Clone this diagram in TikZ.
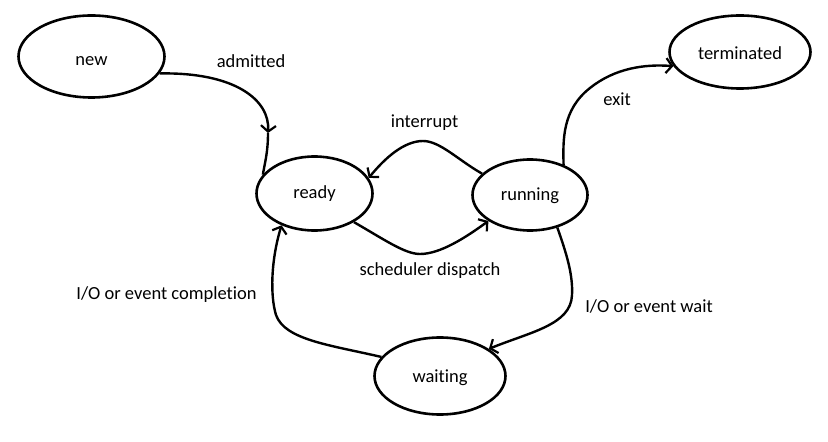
\documentclass[tikz,border=0pt]{standalone}
\usepackage{fontspec}
\setmainfont{Carlito}[Ligatures={NoCommon}]
\usetikzlibrary{shapes.geometric,arrows.meta}
\begin{document}
\begin{tikzpicture}[x=1bp,y=-1bp,
  state/.style={draw,ellipse,line width=2.6bp,inner sep=0pt,text depth=0pt,font=\fontsize{18.5bp}{21bp}\selectfont},
  lbl/.style={inner sep=0pt,font=\fontsize{18.5bp}{21bp}\selectfont},
  conn/.style={line width=2.4bp},
  arr/.style={conn,-{Straight Barb[length=6bp,width=15bp,line width=2.2bp]}}]
\useasboundingbox (0,0) rectangle (828,442);
\node[state,minimum width=146bp,minimum height=82bp,text height=17.6bp] (new) at (91.5,56.5) {new};
\node[state,minimum width=116bp,minimum height=74bp,text height=11bp] (ready) at (314.5,193.5) {ready};
\node[state,minimum width=115bp,minimum height=71bp,text height=11.4bp] (running) at (530,195) {running};
\node[state,minimum width=141bp,minimum height=73bp,text height=14.6bp] (term) at (740,52) {terminated};
\node[state,minimum width=131bp,minimum height=77bp,text height=13bp] (wait) at (440,376) {waiting};
% labels
\node[lbl] (ladm) at (251,61) {admitted};
\node[lbl] (lint) at (424.5,123) {interrupt};
\node[lbl] (lexit) at (617,99) {exit};
\node[lbl] (lsch) at (430,271) {scheduler dispatch};
\node[lbl] (lcomp) at (166.5,295) {I/O or event completion};
\node[lbl] (lwait) at (649,306) {I/O or event wait};
% admitted (arrow tip mid-way)
\coordinate (admtip) at (268,133);
\draw[arr] (new.-14) .. controls (235,72) and (270,100) .. (admtip);
\draw[conn] (admtip) .. controls (268,152) and (265,162) .. (ready.160);
% interrupt
\draw[arr] (running.156) .. controls (458,160) and (440,141) .. (423,141)
  .. controls (404,141) and (385,158) .. (ready.16);
% scheduler dispatch
\draw[arr] (ready.-36) .. controls (385,240) and (405,254) .. (420,254)
  .. controls (440,254) and (465,238) .. (running.-148);
% exit
\draw[arr] (running.42) .. controls (563,140) and (562,110) .. (590,88)
  .. controls (615,68) and (645,64) .. (term.-168);
% I/O or event wait
\draw[arr] (running.-50) .. controls (567,255) and (573,275) .. (572,295)
  .. controls (571,325) and (530,332) .. (wait.29);
% I/O or event completion
\draw[arr] (wait.162) .. controls (330,345) and (285,340) .. (276,315)
  .. controls (270,295) and (271,260) .. (ready.-136);
\end{tikzpicture}
\end{document}
